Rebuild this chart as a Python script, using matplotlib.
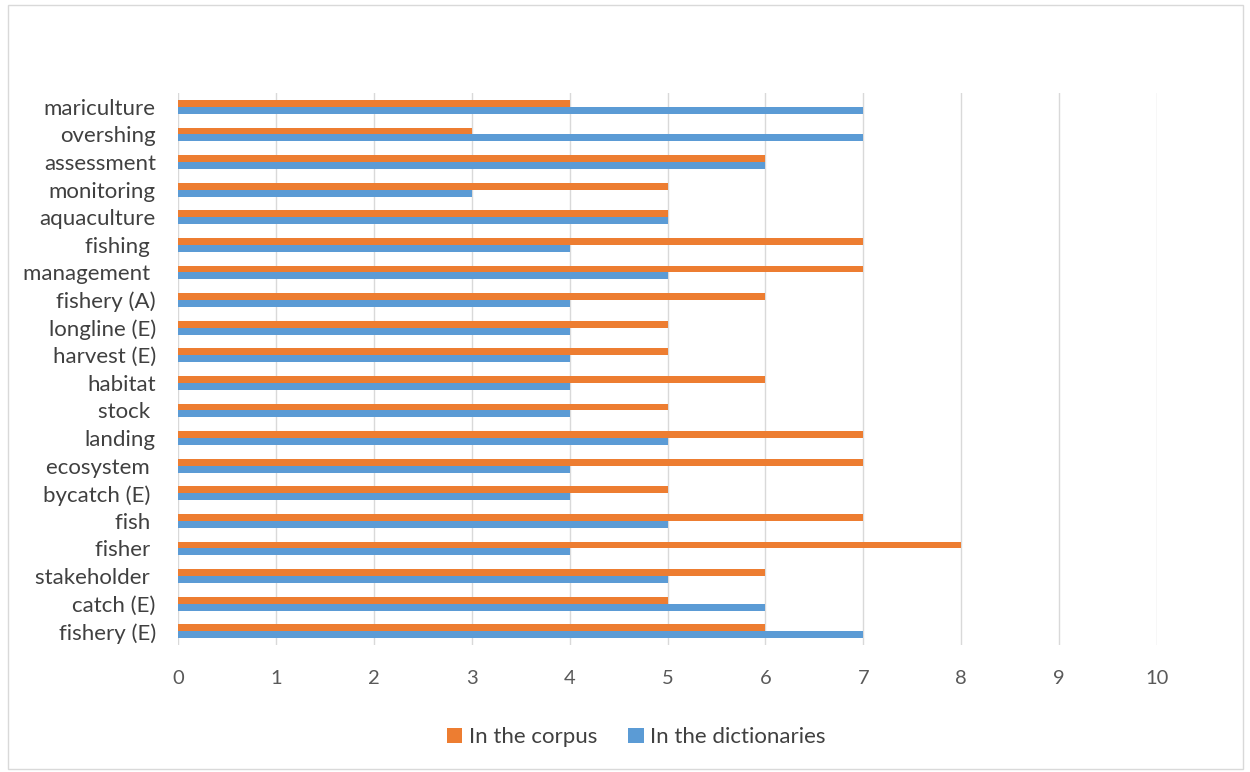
import matplotlib
matplotlib.use("Agg")
import matplotlib.pyplot as plt
import numpy as np
from matplotlib.patches import Rectangle

categories = ["fishery (E)", "catch (E)", "stakeholder ", "fisher ", "fish ", "bycatch (E) ",
              "ecosystem ", "landing", "stock ", "habitat", "harvest (E)", "longline (E)",
              "fishery (A)", "management ", "fishing ", "aquaculture", "monitoring",
              "assessment", "overshing", "mariculture"]
corpus = [6, 5, 6, 8, 7, 5, 7, 7, 5, 6, 5, 5, 6, 7, 7, 5, 5, 6, 3, 4]
dictionaries = [7, 6, 5, 4, 5, 4, 4, 5, 4, 4, 4, 4, 4, 5, 4, 5, 3, 6, 7, 7]
xticks = list(range(0, 11))

plt.rcParams['font.family'] = ['Lato', 'DejaVu Sans']

fig = plt.figure(figsize=(12.5, 7.72), dpi=100)
fig.patches.append(Rectangle((0.006, 0.004), 0.988, 0.99, transform=fig.transFigure,
                             fill=False, edgecolor='#D9D9D9', linewidth=1))
ax = fig.add_axes([0.1424, 0.1645, 0.7832, 0.715])

y = np.arange(len(categories))
h = 0.25
ax.barh(y + h / 2, corpus, height=h, color='#ED7D31', label='In the corpus', zorder=3)
ax.barh(y - h / 2, dictionaries, height=h, color='#5B9BD5', label='In the dictionaries', zorder=3)

ax.set_xlim(0, 10)
ax.set_ylim(-0.5, len(categories) - 0.5)
ax.set_xticks(xticks)
ax.set_xticklabels([str(t) for t in xticks], fontsize=14.5, color='#595959')
ax.set_yticks(y)
ax.set_yticklabels(categories, fontsize=16, color='#404040')
ax.tick_params(axis='both', length=0)
ax.tick_params(axis='x', pad=18)
ax.tick_params(axis='y', pad=16)
ax.grid(axis='x', color='#D9D9D9', linewidth=1, zorder=0)
for s in ax.spines.values():
    s.set_visible(False)

handles, labels = ax.get_legend_handles_labels()
fig.legend(handles, labels, loc='center', bbox_to_anchor=(0.509, 0.045), ncol=2, frameon=False,
           fontsize=16, handlelength=0.7, handleheight=0.7, handletextpad=0.3, columnspacing=1.4,
           labelcolor='#404040')

fig.savefig('out.png', dpi=100)
